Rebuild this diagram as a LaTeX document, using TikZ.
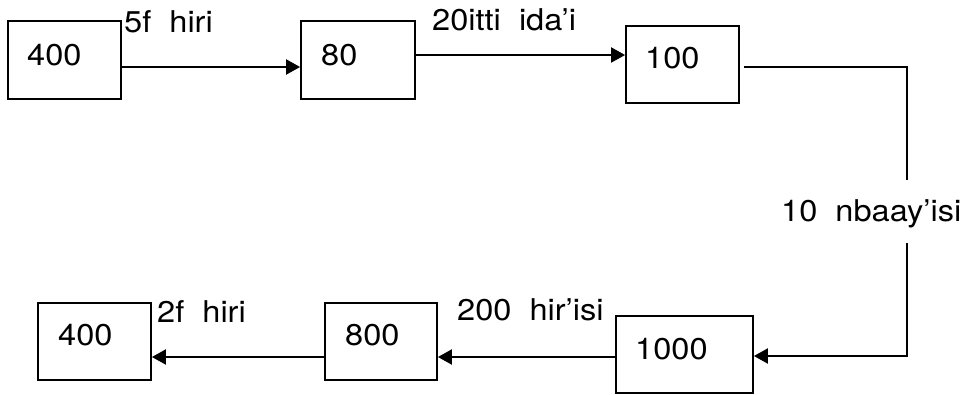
\documentclass[tikz,border=0pt]{standalone}
\usepackage{fontspec}
\setmainfont[FakeStretch=1.085]{TeX Gyre Heros}
\usetikzlibrary{arrows.meta,calc}
\begin{document}
\begin{tikzpicture}[x=1pt,y=-1pt,
  box/.style={draw=black,line width=1.8pt,rectangle,inner sep=0pt},
  txt/.style={inner sep=0pt,anchor=base west,font=\fontsize{30}{36}\selectfont},
  conn/.style={line width=2pt},
  arr/.style={conn,-{Triangle[length=14pt,width=15pt]}}]
\useasboundingbox (0,0) rectangle (968,394);
% boxes
\node[box,minimum width=113pt,minimum height=78pt] (b1) at (64.5,60) {};
\node[box,minimum width=114pt,minimum height=78pt] (b2) at (358,60) {};
\node[box,minimum width=113pt,minimum height=77pt] (b3) at (682.5,64.5) {};
\node[box,minimum width=137pt,minimum height=77pt] (b4) at (684.5,354.5) {};
\node[box,minimum width=112pt,minimum height=77pt] (b5) at (381,341.5) {};
\node[box,minimum width=113pt,minimum height=77pt] (b6) at (94.5,341.5) {};
% box texts
\node[txt] (t1) at (27,65) {400};
\node[txt] (t2) at (321,65) {80};
\node[txt] (t3) at (645,68) {100};
\node[txt] (t4) at (635,359) {1000};
\node[txt] (t5) at (345,345) {800};
\node[txt] (t6) at (58,345) {400};
% labels
\node[txt] (l1) at (124,32) {5f~~hiri};
\node[txt] (l2) at (432,30) {20itti~~ida'i};
\node[txt] (l3) at (781,221) {10~~nbaay'isi};
\node[txt] (l4) at (457,320) {200~~hir'isi};
\node[txt] (l5) at (157,322) {2f~~hiri};
% connectors
\coordinate (c1) at (907,180);
\coordinate (c2) at (907,243);
\draw[arr] ($(b1.east)+(0,7)$) -- ($(b2.west)+(0,7)$);
\draw[arr] ($(b2.east)+(0,-5)$) -- ($(b3.west)+(0,-9.5)$);
\draw[conn] ($(b3.east)+(4,2.5)$) -| (c1);
\draw[arr] (c2) |- ($(b4.east)+(0,1.5)$);
\draw[arr] ($(b4.west)+(0,2.5)$) -- ($(b5.east)+(0,15.5)$);
\draw[arr] ($(b5.west)+(0,15.5)$) -- ($(b6.east)+(0,15.5)$);
\end{tikzpicture}
\end{document}
